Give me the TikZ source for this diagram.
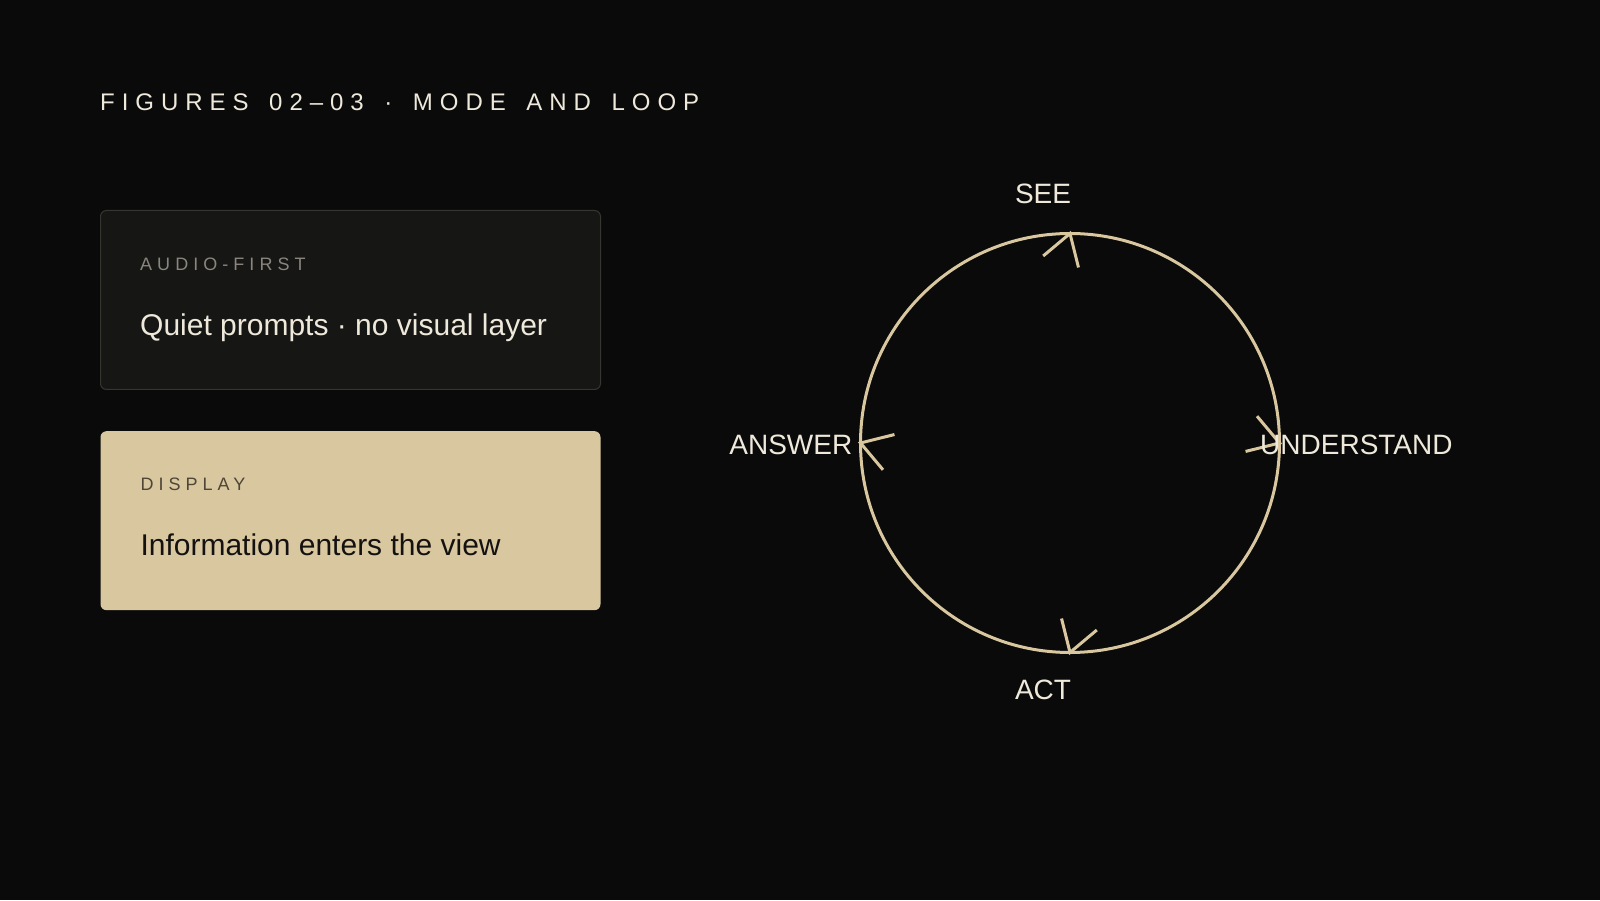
\documentclass[tikz,border=0pt]{standalone}
\usepackage{fontspec}
\setmainfont{Liberation Sans}
\usetikzlibrary{positioning}
\definecolor{bgblack}{HTML}{0A0A0A}
\definecolor{cream}{HTML}{EFE9DC}
\definecolor{sand}{HTML}{D9C7A0}
\definecolor{cardgrey}{HTML}{161615}
\definecolor{edgegrey}{HTML}{36352F}
\definecolor{taggrey}{HTML}{8A867E}
\definecolor{tagbrown}{HTML}{4E4636}
\definecolor{inkdark}{HTML}{141210}
\newcommand{\headfont}{\fontsize{24}{28}\selectfont\addfontfeature{LetterSpace=29}\spaceskip 20.6pt\relax}
\tikzset{
  card/.style = {rectangle, rounded corners=6pt, minimum width=500pt, minimum height=179pt, inner sep=0pt},
  quietcard/.style = {card, draw=edgegrey, line width=1pt, fill=cardgrey},
  showcard/.style = {card, fill=sand},
  tag/.style = {anchor=base west, inner sep=0pt, font=\fontsize{18}{22}\selectfont\addfontfeature{LetterSpace=28}},
  cardtext/.style = {anchor=base west, inner sep=0pt, font=\fontsize{30}{36}\selectfont},
  ring/.style = {circle, draw=sand, line width=3pt, minimum size=419pt, inner sep=0pt, outer sep=0pt},
  chev/.style = {draw=sand, line width=3pt},
  looplabel/.style = {inner sep=0pt, text=cream, font=\fontsize{28}{32}\selectfont}
}

\begin{document}
\begin{tikzpicture}[x=1pt, y=1pt]
  \fill[bgblack] (0,0) rectangle (1600,900);
  \node [anchor=base west, inner sep=0pt, text=cream, font=\headfont] (title) at (100,789) {FIGURES 02–03 · MODE AND LOOP};
  % mode cards
  \node [quietcard, anchor=north west] (audio) at (100,690) {};
  \node [tag, text=taggrey] (audiotag) at ([xshift=40pt, yshift=-61pt]audio.north west) {AUDIO-FIRST};
  \node [cardtext, text=cream] (audiotext) at ([xshift=40pt, yshift=-126pt]audio.north west) {Quiet prompts · no visual layer};
  \node [showcard, below=41pt of audio] (display) {};
  \node [tag, text=tagbrown] (displaytag) at ([xshift=40pt, yshift=-60pt]display.north west) {DISPLAY};
  \node [cardtext, text=inkdark] (displaytext) at ([xshift=40pt, yshift=-125pt]display.north west) {Information enters the view};
  % loop
  \node [ring] (loop) at (1070,457) {};
  \draw [chev] (loop.north) ++(220:35) -- (loop.north) -- ++(284:35);
  \draw [chev] (loop.east) ++(130:35) -- (loop.east) -- ++(194:35);
  \draw [chev] (loop.south) ++(40:35) -- (loop.south) -- ++(104:35);
  \draw [chev] (loop.west) ++(310:35) -- (loop.west) -- ++(14:35);
  \node [looplabel, anchor=base] (see) at ([xshift=-27pt, yshift=29.5pt]loop.north) {SEE};
  \node [looplabel, anchor=base west] (understand) at ([xshift=-19.5pt, yshift=-12pt]loop.east) {UNDERSTAND};
  \node [looplabel, anchor=base] (act) at ([xshift=-27pt, yshift=-46.5pt]loop.south) {ACT};
  \node [looplabel, anchor=base east] (answer) at ([xshift=-8pt, yshift=-12pt]loop.west) {ANSWER};
\end{tikzpicture}
\end{document}
